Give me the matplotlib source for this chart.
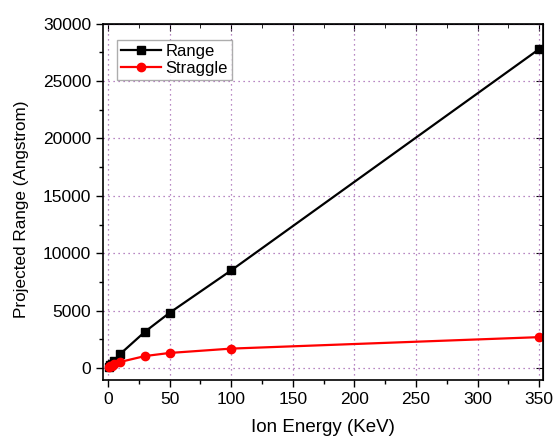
import matplotlib
matplotlib.use('Agg')
import matplotlib.pyplot as plt
from matplotlib.ticker import MultipleLocator

# ion energy (keV) and SRIM-like results (Angstrom)
energy = [1, 2, 3, 5, 10, 30, 50, 100, 350]
proj_range = [110, 210, 320, 600, 1220, 3150, 4800, 8500, 27800]
straggle = [60, 120, 180, 300, 520, 1030, 1300, 1680, 2680]

plt.rcParams['font.family'] = ['Liberation Sans', 'DejaVu Sans']

fig = plt.figure(figsize=(5.54, 4.41), dpi=100)
ax = fig.add_axes([0.186, 0.138, 0.794, 0.808])

ax.plot(energy, proj_range, color='black', lw=1.6, marker='s', ms=6, label='Range')
ax.plot(energy, straggle, color='red', lw=1.6, marker='o', ms=6, label='Straggle')

ax.set_xlim(-4, 353)
ax.set_ylim(-1070, 30000)
ax.xaxis.set_major_locator(MultipleLocator(50))
ax.xaxis.set_minor_locator(MultipleLocator(25))
ax.yaxis.set_major_locator(MultipleLocator(5000))
ax.yaxis.set_minor_locator(MultipleLocator(2500))

ax.grid(True, which='major', color='#a060b0', linestyle=(0, (1, 3)), lw=0.9)

# outward ticks on bottom/left, inward mirrors on top/right
ax.tick_params(which='both', direction='out', labelsize=12.5, width=1)
ax.tick_params(which='major', length=5)
ax.tick_params(which='minor', length=3)
axt = ax.secondary_xaxis('top')
axt.xaxis.set_major_locator(MultipleLocator(50))
axt.xaxis.set_minor_locator(MultipleLocator(25))
axt.tick_params(which='both', direction='in', labeltop=False)
axt.tick_params(which='major', length=5)
axt.tick_params(which='minor', length=3)
axr = ax.secondary_yaxis('right')
axr.yaxis.set_major_locator(MultipleLocator(5000))
axr.yaxis.set_minor_locator(MultipleLocator(2500))
axr.tick_params(which='both', direction='in', labelright=False)
axr.tick_params(which='major', length=5)
axr.tick_params(which='minor', length=3)

for s in ax.spines.values():
    s.set_linewidth(1.2)

ax.set_xlabel('Ion Energy (KeV)', fontsize=13.5)
ax.set_ylabel('Projected Range (Angstrom)', fontsize=12.3)
ax.xaxis.set_label_coords(0.5, -0.11)
ax.yaxis.set_label_coords(-0.168, 0.48)

ax.legend(loc='upper left', fontsize=12, fancybox=False, edgecolor='#999999',
          handlelength=2.4, borderpad=0.25, labelspacing=0.15, handletextpad=0.25,
          borderaxespad=0.3, bbox_to_anchor=(0.02, 0.97))

plt.savefig('out.png', dpi=100)
plt.close()
